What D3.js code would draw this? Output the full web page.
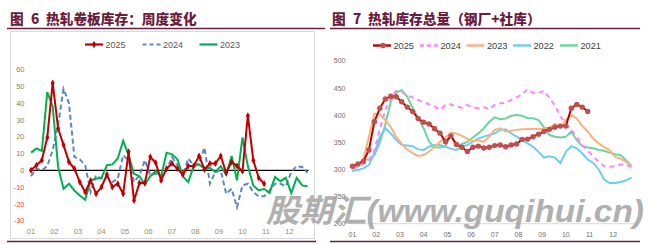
<!DOCTYPE html>
<html>
<head>
<meta charset="utf-8">
<script src="https://cdn.jsdelivr.net/npm/d3@7"></script>
<style>
  body { margin: 0; background: #fff; }
  svg { display: block; }
</style>
</head>
<body>
<svg id="chart" width="665" height="244"></svg>
<script>
// month tick labels (both charts)
const months = ["01","02","03","04","05","06","07","08","09","10","11","12"];

// 图6 weekly change of HRC inventory (one value per week)
const weekly2025 = [0,3,6,19.5,52,25,15,5,1,-7,-13,-6,-14,-10,-2.5,-10,-8,-14,11,-18,-7.5,-7.5,8,4.5,-6,1,4,1,-2.5,2.5,2.5,8.5,0.5,4,4,8.5,-1.5,5,2.5,-0.5,32.5,6,-4.5,-8];
const weekly2024 = [-3.5,1,0,2.5,12,27,48.5,40,8,6.5,3,-13,-3,-5,-4,-7,-5,9,6,-7,-3,6,-3,-2,-3.5,0,8,3,-3,7,3,4,13.5,-8,-1,0,-14,-11,-22,-9,-8,-13,-15.5,-15.5,-12,-8,-8,-9.5,-1,2.5,2,-1.5];
const weekly2023 = [10.5,13,11.5,46.5,38,2,-11,-8,-12,-15,-17.5,-6,-5,-4.5,3,3.5,7,17.5,9,-2,-3.5,-8.5,-3.5,-0.5,-3.5,10.5,9.5,6.5,-3.5,-7,2.5,3.5,1,1.5,-1,2.5,-2.5,8.5,-6,19.5,2.5,-9,-12,-11,-13.5,-4,-6.5,-4.5,-13.5,-4.5,-9,-9.5];
const weeklyTicks = [60,50,40,30,20,10,0,-10,-20,-30];

// 图7 total HRC inventory (mills + social)
const total2025 = [306,310,315,336,388,413,430,435,434,425,415,407,394,387,384,375,367,351,362,346,341,333,341,343,339.5,341,344,345,342,345,347,355.5,356,360.5,365,370,374,378,380,380,413,420,415,407];
const total2024 = [302,305,310,317,335,375,410,432,445,443,436,433,428,424,420,416,410,419,420,416,414,419,414,413,415,411,419,422,423,428,433,438,448,441,441,445,432,418,398,385,372,360,345,335,324,314,306,305,306,309,308,305];
const total2023 = [299,308,320,360,403,402,391,378,360,347,337,330,325,326.5,333,342,351,358.5,368,366.5,362,357,352,354,351,360.5,373,376,370,371.5,373,374,374.5,375,374,376,377,384,378,391,400.5,394,380,370,357,348,341,336,323,320,314,305];
const total2022 = [297.5,299,302,308,329.5,360.5,376,366.5,354,345,344,343,337,336,342,345,345,342,338,336,342,345,351,357,360.5,363.5,366.5,373,374,366.5,360.5,354,348,342,332.5,322,324.5,322,312,332.5,343,339,329.5,318.5,312,300,281.5,275,275,277,280,285];
const total2021 = [295.5,308,318.5,318.5,326.5,350,383,425,442,446,434.5,413,394,376,351,341,340.5,343,363.5,343,347,351,359,366.5,376,388,396,392.5,394,399,400.5,399,395,394.5,391,378,363.5,360.5,359,360.5,370,354,343,340.5,339,336,334.5,331,328,326.5,317,306];
const totalTicks = [500,450,400,350,300,250,200];

const svg = d3.select("#chart");
const maroon = "#6b1d3d";
const narrow = "'Liberation Sans Narrow','Arial Narrow','Liberation Sans',sans-serif";
const cjk = "'Noto Sans CJK SC','Noto Sans',sans-serif";

// ---- titles and frame lines ----
function title(x, num, rest) {
  const t = svg.append("text")
    .attr("y", 23.5)
    .attr("fill", maroon)
    .style("font-family", cjk)
    .style("font-weight", "900")
    .style("font-size", "13.7px");
  t.append("tspan").attr("x", x).text("图");
  t.append("tspan").attr("x", x + 21).text(num);
  t.append("tspan").attr("x", x + 36).text(rest);
}
title(10, "6", "热轧卷板库存：周度变化");
title(332, "7", "热轧库存总量（钢厂+社库）");

[[7, 325, 28.5], [330, 640, 28.5], [7, 316, 241.5], [330, 640, 241.5]].forEach(d => {
  svg.append("line")
    .attr("x1", d[0]).attr("x2", d[1]).attr("y1", d[2]).attr("y2", d[2])
    .attr("stroke", maroon).attr("stroke-width", 1.5);
});

// ---- left chart: weekly change ----
const xL = d3.scaleLinear().domain([0, 51]).range([31, 307.5]);
const yL = d3.scaleLinear().domain([-30, 60]).range([220.7, 69.5]);

svg.append("rect")
  .attr("x", 10.5).attr("y", 31.5).attr("width", 304).attr("height", 207)
  .attr("fill", "none").attr("stroke", "#d9d9d9");

svg.append("g").selectAll("text").data(weeklyTicks).join("text")
  .attr("x", 24.5).attr("y", d => yL(d) + 2.6)
  .attr("text-anchor", "end")
  .attr("fill", d => d < 0 ? "#ff3b3b" : "#8c7d62")
  .style("font-family", narrow).style("font-size", "7.5px")
  .text(d => d);

svg.append("g").selectAll("text").data(months).join("text")
  .attr("x", (d, i) => xL(i * 52 / 12)).attr("y", 234)
  .attr("text-anchor", "middle")
  .attr("fill", "#a8884f")
  .style("font-family", narrow).style("font-size", "7.5px")
  .text(d => d);

svg.append("line")
  .attr("x1", xL(0) - 1).attr("x2", xL(51) + 1)
  .attr("y1", yL(0)).attr("y2", yL(0))
  .attr("stroke", "#000").attr("stroke-width", 1.3);

const lineL = d3.line().x((d, i) => xL(i)).y(d => yL(d));

svg.append("path").datum(weekly2024).attr("d", lineL)
  .attr("fill", "none").attr("stroke", "#5b87c8").attr("stroke-width", 2)
  .attr("stroke-dasharray", "5,3");
svg.append("path").datum(weekly2023).attr("d", lineL)
  .attr("fill", "none").attr("stroke", "#00b050").attr("stroke-width", 2);
svg.append("path").datum(weekly2025).attr("d", lineL)
  .attr("fill", "none").attr("stroke", "#c00000").attr("stroke-width", 2);
svg.append("g").selectAll("path").data(weekly2025).join("path")
  .attr("d", d3.symbol(d3.symbolDiamond, 14))
  .attr("transform", (d, i) => `translate(${xL(i)},${yL(d)})`)
  .attr("fill", "#c00000");

// left legend
const legL = [
  { name: "2025", x: 85, color: "#c00000", dash: null, marker: true },
  { name: "2024", x: 142.5, color: "#5b87c8", dash: "4,3", marker: false },
  { name: "2023", x: 199.5, color: "#00b050", dash: null, marker: false }
];
legL.forEach(d => {
  svg.append("line")
    .attr("x1", d.x).attr("x2", d.x + 18).attr("y1", 44.5).attr("y2", 44.5)
    .attr("stroke", d.color).attr("stroke-width", 2.2)
    .attr("stroke-dasharray", d.dash);
  if (d.marker) {
    svg.append("path").attr("d", d3.symbol(d3.symbolDiamond, 16))
      .attr("transform", `translate(${d.x + 9},44.5)`).attr("fill", d.color);
  }
  svg.append("text")
    .attr("x", d.x + 20.5).attr("y", 47.6)
    .attr("fill", "#595959")
    .style("font-family", narrow).style("font-size", "9px")
    .text(d.name);
});

// ---- right chart: total inventory ----
const xR = d3.scaleLinear().domain([0, 51]).range([352.5, 631.5]);
const yR = d3.scaleLinear().domain([200, 500]).range([223.7, 61]);

svg.append("g").selectAll("text").data(totalTicks).join("text")
  .attr("x", 345.5).attr("y", d => yR(d) + 2.4)
  .attr("text-anchor", "end")
  .attr("fill", "#6f6f6f")
  .style("font-family", narrow).style("font-size", "7px")
  .text(d => d);

svg.append("g").selectAll("text").data(months).join("text")
  .attr("x", (d, i) => xR(i * 52 / 12)).attr("y", 237)
  .attr("text-anchor", "middle")
  .attr("fill", "#6f6f6f")
  .style("font-family", narrow).style("font-size", "7px")
  .text(d => d);

svg.append("line")
  .attr("x1", 349).attr("x2", 634)
  .attr("y1", yR(200)).attr("y2", yR(200))
  .attr("stroke", "#d9d9d9").attr("stroke-width", 1);

const lineR = d3.line().x((d, i) => xR(i)).y(d => yR(d));
const seriesR = [
  { name: "2021", data: total2021, color: "#6fd49a", dash: null },
  { name: "2022", data: total2022, color: "#6ccdf5", dash: null },
  { name: "2023", data: total2023, color: "#fab27c", dash: null },
  { name: "2024", data: total2024, color: "#ff85ff", dash: "5,4" }
];
seriesR.forEach(s => {
  svg.append("path").datum(s.data).attr("d", lineR)
    .attr("fill", "none").attr("stroke", s.color).attr("stroke-width", 2)
    .attr("stroke-dasharray", s.dash);
});
svg.append("path").datum(total2025).attr("d", lineR)
  .attr("fill", "none").attr("stroke", "#c00000").attr("stroke-width", 2);
svg.append("g").selectAll("circle").data(total2025).join("circle")
  .attr("cx", (d, i) => xR(i)).attr("cy", d => yR(d)).attr("r", 2.7)
  .attr("fill", "#c0504d");

// right legend
const legR = [
  { name: "2025", x: 373, color: "#c00000", dash: null, marker: true },
  { name: "2024", x: 420, color: "#ff85ff", dash: "4,3", marker: false },
  { name: "2023", x: 466.5, color: "#fab27c", dash: null, marker: false },
  { name: "2022", x: 513, color: "#6ccdf5", dash: null, marker: false },
  { name: "2021", x: 560, color: "#6fd49a", dash: null, marker: false }
];
legR.forEach(d => {
  svg.append("line")
    .attr("x1", d.x).attr("x2", d.x + 18).attr("y1", 45.5).attr("y2", 45.5)
    .attr("stroke", d.color).attr("stroke-width", 2.4)
    .attr("stroke-dasharray", d.dash);
  if (d.marker) {
    svg.append("circle").attr("cx", d.x + 10).attr("cy", 45.5).attr("r", 2.8)
      .attr("fill", "#c0504d");
  }
  svg.append("text")
    .attr("x", d.x + 20.5).attr("y", 48.8)
    .attr("fill", "#404040")
    .style("font-family", narrow).style("font-size", "9.2px")
    .text(d.name);
});

// watermark
svg.append("text")
  .attr("x", 266).attr("y", 222)
  .attr("textLength", 378).attr("lengthAdjust", "spacingAndGlyphs")
  .attr("fill", "#a3a3a3").attr("opacity", 0.85)
  .style("font-family", "'Liberation Sans','Noto Sans CJK SC',sans-serif")
  .style("font-weight", "bold").style("font-style", "italic")
  .style("font-size", "32px")
  .text("股期汇(www.guqihui.cn)");
</script>
</body>
</html>
